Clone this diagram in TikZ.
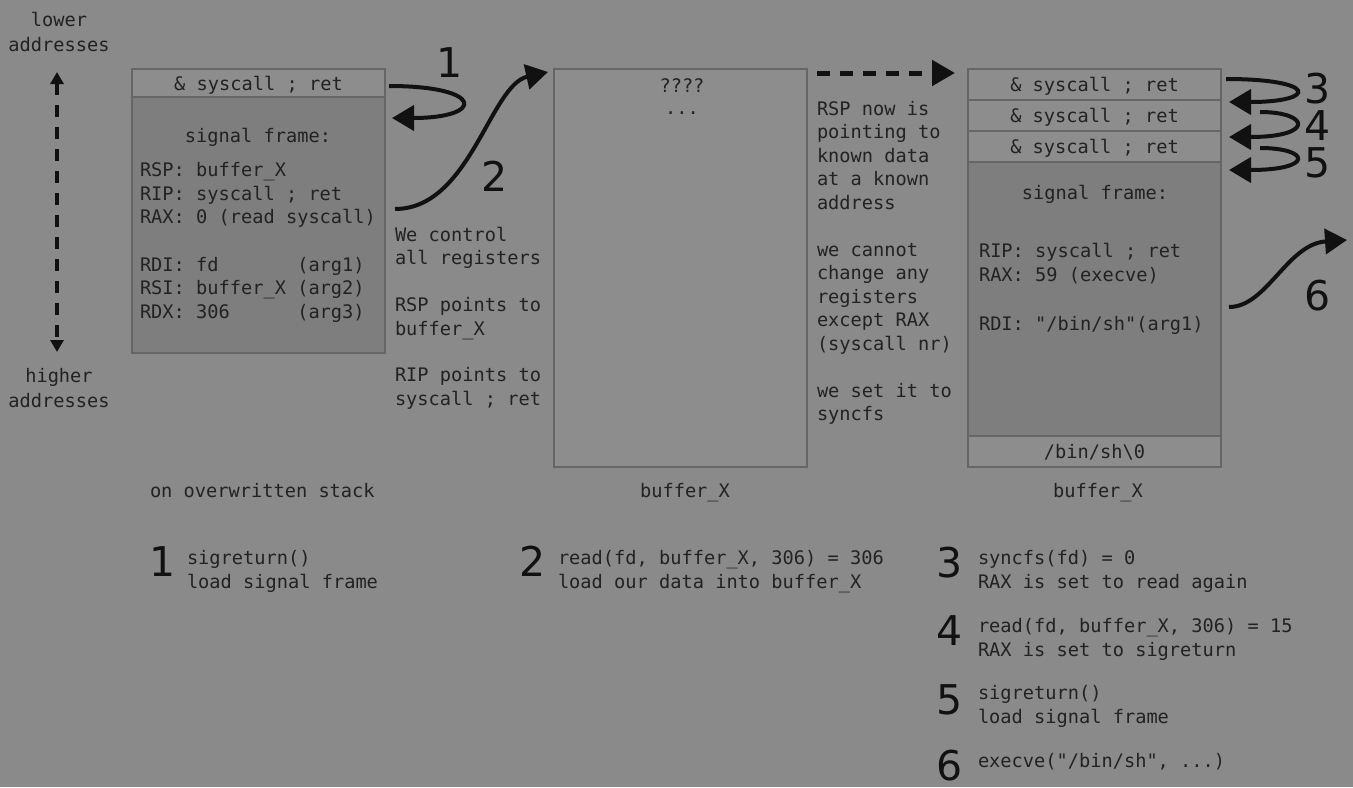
\documentclass[tikz,border=0pt]{standalone}
\usepackage{fontspec}
\setmonofont{DejaVu Sans Mono}
\newfontfamily\numfont{DejaVu Sans}
\usetikzlibrary{arrows.meta,calc}
\definecolor{bgc}{HTML}{8A8A8A}
\definecolor{cellc}{HTML}{8D8D8D}
\definecolor{framec}{HTML}{7E7E7E}
\definecolor{edgec}{HTML}{666666}
\definecolor{inkc}{HTML}{222222}
\definecolor{arrc}{HTML}{111111}
\begin{document}
\begin{tikzpicture}[x=0.5pt,y=-0.5pt,
  mono/.style={font=\ttfamily\fontsize{9.33}{11.8}\selectfont, text=inkc, inner sep=0pt, outer sep=0pt},
  line/.style={mono, anchor=base west},
  cline/.style={mono, anchor=base},
  big/.style={font=\numfont\fontsize{20.5}{20.5}\selectfont, text=arrc, inner sep=0pt, anchor=base},
  cell/.style={mono, draw=edgec, line width=0.8pt, fill=cellc, minimum width=126.5pt, anchor=north west, text height=0.76em, text depth=0.05em},
  sframe/.style={cell, fill=framec},
  flow/.style={draw=arrc, line width=2pt, -{Triangle[length=11pt,width=12.5pt]}},
  dashflow/.style={draw=arrc, line width=2.5pt, dash pattern=on 6.5pt off 5pt, -{Triangle[length=11.5pt,width=12.5pt]}},
  addrarrow/.style={draw=arrc, line width=1.6pt, dash pattern=on 6pt off 5pt, {Triangle[length=6pt,width=6.5pt]}-{Triangle[length=6pt,width=6.5pt]}}
]
\fill[bgc] (0,0) rectangle (1353,787);
\useasboundingbox (0,0) rectangle (1353,787);

% ---------- left: addresses ----------
\node[cline] (lw1) at (59,26) {lower};
\node[cline] (lw2) at (59,51) {addresses};
\node[cline] (hi1) at (59,382) {higher};
\node[cline] (hi2) at (59,407) {addresses};
\coordinate (vt) at (57,72);
\coordinate (vb) at (57,352);
\draw[addrarrow] (vt) -- (vb);

% ---------- box 1 ----------
\node[cell, minimum height=14pt] (a1) at (132,69) {\& syscall ; ret};
\node[sframe, minimum height=128pt] (af) at (a1.south west) {};
\node[cline] (af0) at (258,142) {signal frame:};
\node[line] (af1) at (140,176.5) {RSP: buffer\_X};
\node[line] (af2) at (140,200.1) {RIP: syscall ; ret};
\node[line] (af3) at (140,223.7) {RAX: 0 (read syscall)};
\node[line] (af4) at (140,271) {RDI: fd~~~~~~~(arg1)};
\node[line] (af5) at (140,294.6) {RSI: buffer\_X (arg2)};
\node[line] (af6) at (140,318.2) {RDX: 306~~~~~~(arg3)};
\node[line] (alab) at (150,497) {on overwritten stack};

% text between box 1 and 2
\node[line] (m1) at (395,241.5) {We control};
\node[line] (m2) at (395,264.9) {all registers};
\node[line] (m3) at (395,311.7) {RSP points to};
\node[line] (m4) at (395,335.1) {buffer\_X};
\node[line] (m5) at (395,381.9) {RIP points to};
\node[line] (m6) at (395,405.3) {syscall ; ret};

% ---------- box 2 ----------
\node[cell, minimum height=199pt] (b) at (554,69) {};
\node[cline] (b1) at (682,92) {????};
\node[cline] (b2) at (682,114) {...};
\node[cline] (blab) at (685,497) {buffer\_X};

% text between box 2 and 3
\node[line] (n1) at (817,115) {RSP now is};
\node[line] (n2) at (817,138.5) {pointing to};
\node[line] (n3) at (817,162) {known data};
\node[line] (n4) at (817,185.5) {at a known};
\node[line] (n5) at (817,209) {address};
\node[line] (n6) at (817,256) {we cannot};
\node[line] (n7) at (817,279.5) {change any};
\node[line] (n8) at (817,303) {registers};
\node[line] (n9) at (817,326.5) {except RAX};
\node[line] (n10) at (817,350) {(syscall nr)};
\node[line] (n11) at (817,397) {we set it to};
\node[line] (n12) at (817,420.5) {syncfs};

% ---------- box 3 ----------
\node[cell, minimum height=15.5pt] (c1) at (968,69) {\& syscall ; ret};
\node[cell, minimum height=15.5pt] (c2) at (c1.south west) {\& syscall ; ret};
\node[cell, minimum height=15.5pt] (c3) at (c2.south west) {\& syscall ; ret};
\node[sframe, minimum height=137pt] (cf) at (c3.south west) {};
\node[cell, minimum height=15.5pt] (c4) at (cf.south west) {/bin/sh\textbackslash 0};
\node[cline] (cf0) at (1095,199) {signal frame:};
\node[line] (cf1) at (979,257) {RIP: syscall ; ret};
\node[line] (cf2) at (979,281) {RAX: 59 (execve)};
\node[line] (cf3) at (979,330) {RDI: "/bin/sh"(arg1)};
\node[cline] (clab) at (1098,497) {buffer\_X};

% ---------- arrows ----------
\draw[flow] ($(a1.east)+(4,3)$) .. controls +(96,0) and +(93,0) .. ($(af.north east)+(7,21)$);
\node[big] (l1) at (449.5,77) {1};
\coordinate (b2in) at ($(b.north west)+(-6,3)$);
\draw[flow] ($(af.east)+(10,-16)$) .. controls +(75,0) and +(-58,13) .. (b2in);
\node[big] (l2) at (495,191) {2};
\draw[dashflow] ($(b.north east)+(10,4)$) -- ($(c1.north west)+(-13,4)$);

\draw[flow] ($(c1.east)+(5,-5.5)$) .. controls +(92,0) and +(89,0) .. ($(c2.north east)+(8,2)$);
\draw[flow] ($(c2.east)+(39,-3.5)$) .. controls +(50,0) and +(86,0) .. ($(c3.north east)+(8,6)$);
\draw[flow] ($(c3.east)+(39,1.5)$) .. controls +(50,0) and +(86,0) .. ($(cf.north east)+(8,8)$);
\node[big] (l3) at (1318,103) {3};
\node[big] (l4) at (1318,140) {4};
\node[big] (l5) at (1318,177) {5};
\coordinate (c6end) at (1347,240);
\draw[flow] ($(cf.east)+(8,8)$) .. controls +(38,0) and +(-60,4) .. (c6end);
\node[big] (l6) at (1318,310) {6};

% ---------- bottom legend ----------
\node[big] (s1) at (163,576) {1};
\node[line] (s1a) at (187,564) {sigreturn()};
\node[line] (s1b) at (187,588) {load signal frame};

\node[big] (s2) at (533,576) {2};
\node[line] (s2a) at (558,564) {read(fd, buffer\_X, 306) = 306};
\node[line] (s2b) at (558,588) {load our data into buffer\_X};

\node[big] (s3) at (950,577) {3};
\node[line] (s3a) at (978,564) {syncfs(fd) = 0};
\node[line] (s3b) at (978,588.5) {RAX is set to read again};

\node[big] (s4) at (950,645) {4};
\node[line] (s4a) at (978,632) {read(fd, buffer\_X, 306) = 15};
\node[line] (s4b) at (978,656.5) {RAX is set to sigreturn};

\node[big] (s5) at (950,714) {5};
\node[line] (s5a) at (978,699) {sigreturn()};
\node[line] (s5b) at (978,723.5) {load signal frame};

\node[big] (s6) at (950,780) {6};
\node[line] (s6a) at (978,767) {execve("/bin/sh", ...)};
\end{tikzpicture}
\end{document}
